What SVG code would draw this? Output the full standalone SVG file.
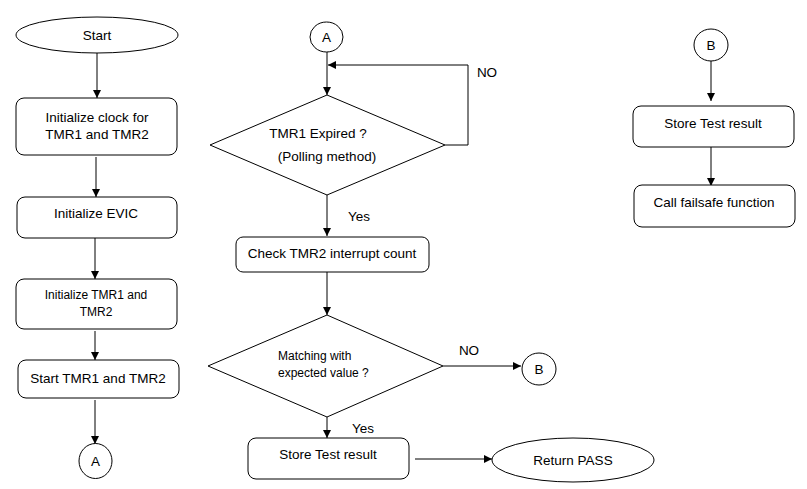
<svg xmlns="http://www.w3.org/2000/svg" width="807" height="489" viewBox="0 0 807 489">
<defs>
<marker id="arr" markerUnits="userSpaceOnUse" markerWidth="8" markerHeight="8" refX="8" refY="4" orient="auto">
<path d="M0,0 L8,4 L0,8 Z" fill="#000"/>
</marker>
<style>
.s{fill:#fff;stroke:#000;stroke-width:1}
.t{font-family:"Liberation Sans",Arial,sans-serif;font-size:13.5px;fill:#000;text-anchor:middle}
.sm{font-size:12px}
.c{fill:none;stroke:#000;stroke-width:1;marker-end:url(#arr)}
.l{fill:none;stroke:#000;stroke-width:1}
</style>
</defs>
<rect width="807" height="489" fill="#fff"/>
<g id="connectors">
<path class="c" d="M97,53 V98"/>
<path class="c" d="M96,157 V197"/>
<path class="c" d="M95,238 V279"/>
<path class="c" d="M95,331 V360"/>
<path class="c" d="M95,400 V444"/>
<path class="c" d="M327,52 V95"/>
<path class="c" d="M445,145 H468 V65 H328"/>
<path class="c" d="M327,195 V236"/>
<path class="c" d="M327,272 V315"/>
<path class="c" d="M443,366 H521"/>
<path class="c" d="M327,417 V438"/>
<path class="c" d="M415,459 H492"/>
<path class="c" d="M711,61 V101"/>
<path class="c" d="M711,147 V186"/>
</g>
<g id="start">
<ellipse class="s" cx="97" cy="35" rx="81" ry="18"/>
<text class="t" x="97" y="40">Start</text>
</g>
<g id="init-clock">
<rect class="s" x="16" y="98" width="161" height="57" rx="8"/>
<text class="t" x="97" y="122">Initialize clock for</text>
<text class="t" x="97" y="139">TMR1 and TMR2</text>
</g>
<g id="init-evic">
<rect class="s" x="17" y="197" width="160" height="41" rx="8"/>
<text class="t" x="96" y="218">Initialize EVIC</text>
</g>
<g id="init-tmr">
<rect class="s" x="16" y="279" width="161" height="50" rx="8"/>
<text class="t sm" x="96" y="299">Initialize TMR1 and</text>
<text class="t sm" x="96" y="316">TMR2</text>
</g>
<g id="start-tmr">
<rect class="s" x="18" y="360" width="161" height="38" rx="8"/>
<text class="t" x="98" y="383">Start TMR1 and TMR2</text>
</g>
<g id="conn-a-left">
<ellipse class="s" cx="95.5" cy="461" rx="16.5" ry="17.5"/>
<text class="t" x="95.5" y="466">A</text>
</g>
<g id="conn-a-top">
<ellipse class="s" cx="326.5" cy="37" rx="16.5" ry="15"/>
<text class="t" x="326.5" y="42">A</text>
</g>
<g id="dec-expired">
<polygon class="s" points="327,95 445,145 327,195 210,145"/>
<text class="t" x="318" y="138">TMR1 Expired ?</text>
<text class="t" x="327" y="161">(Polling method)</text>
</g>
<text class="t" x="487" y="77">NO</text>
<text class="t" x="359" y="221">Yes</text>
<g id="check-count">
<rect class="s" x="236" y="237" width="193" height="35" rx="7"/>
<text class="t" x="332" y="258">Check TMR2 interrupt count</text>
</g>
<g id="dec-match">
<polygon class="s" points="327,315 443,366 327,417 208,366"/>
<text class="t sm" x="278" y="360" style="text-anchor:start">Matching with</text>
<text class="t sm" x="278" y="377" style="text-anchor:start">expected value ?</text>
</g>
<text class="t" x="469" y="355">NO</text>
<text class="t" x="363" y="433">Yes</text>
<g id="conn-b-mid">
<ellipse class="s" cx="539" cy="369" rx="17" ry="16"/>
<text class="t" x="539" y="374">B</text>
</g>
<g id="store-pass">
<rect class="s" x="248" y="438" width="161" height="41" rx="8"/>
<text class="t" x="328" y="459">Store Test result</text>
</g>
<g id="return-pass">
<ellipse class="s" cx="573" cy="460" rx="81" ry="22"/>
<text class="t" x="573" y="465">Return PASS</text>
</g>
<g id="conn-b-right">
<ellipse class="s" cx="711" cy="45" rx="17" ry="16"/>
<text class="t" x="711" y="50">B</text>
</g>
<g id="store-fail">
<rect class="s" x="633" y="106" width="161" height="41" rx="8"/>
<text class="t" x="713" y="128">Store Test result</text>
</g>
<g id="failsafe">
<rect class="s" x="634" y="185" width="161" height="42" rx="8"/>
<text class="t" x="714" y="207">Call failsafe function</text>
</g>
</svg>
